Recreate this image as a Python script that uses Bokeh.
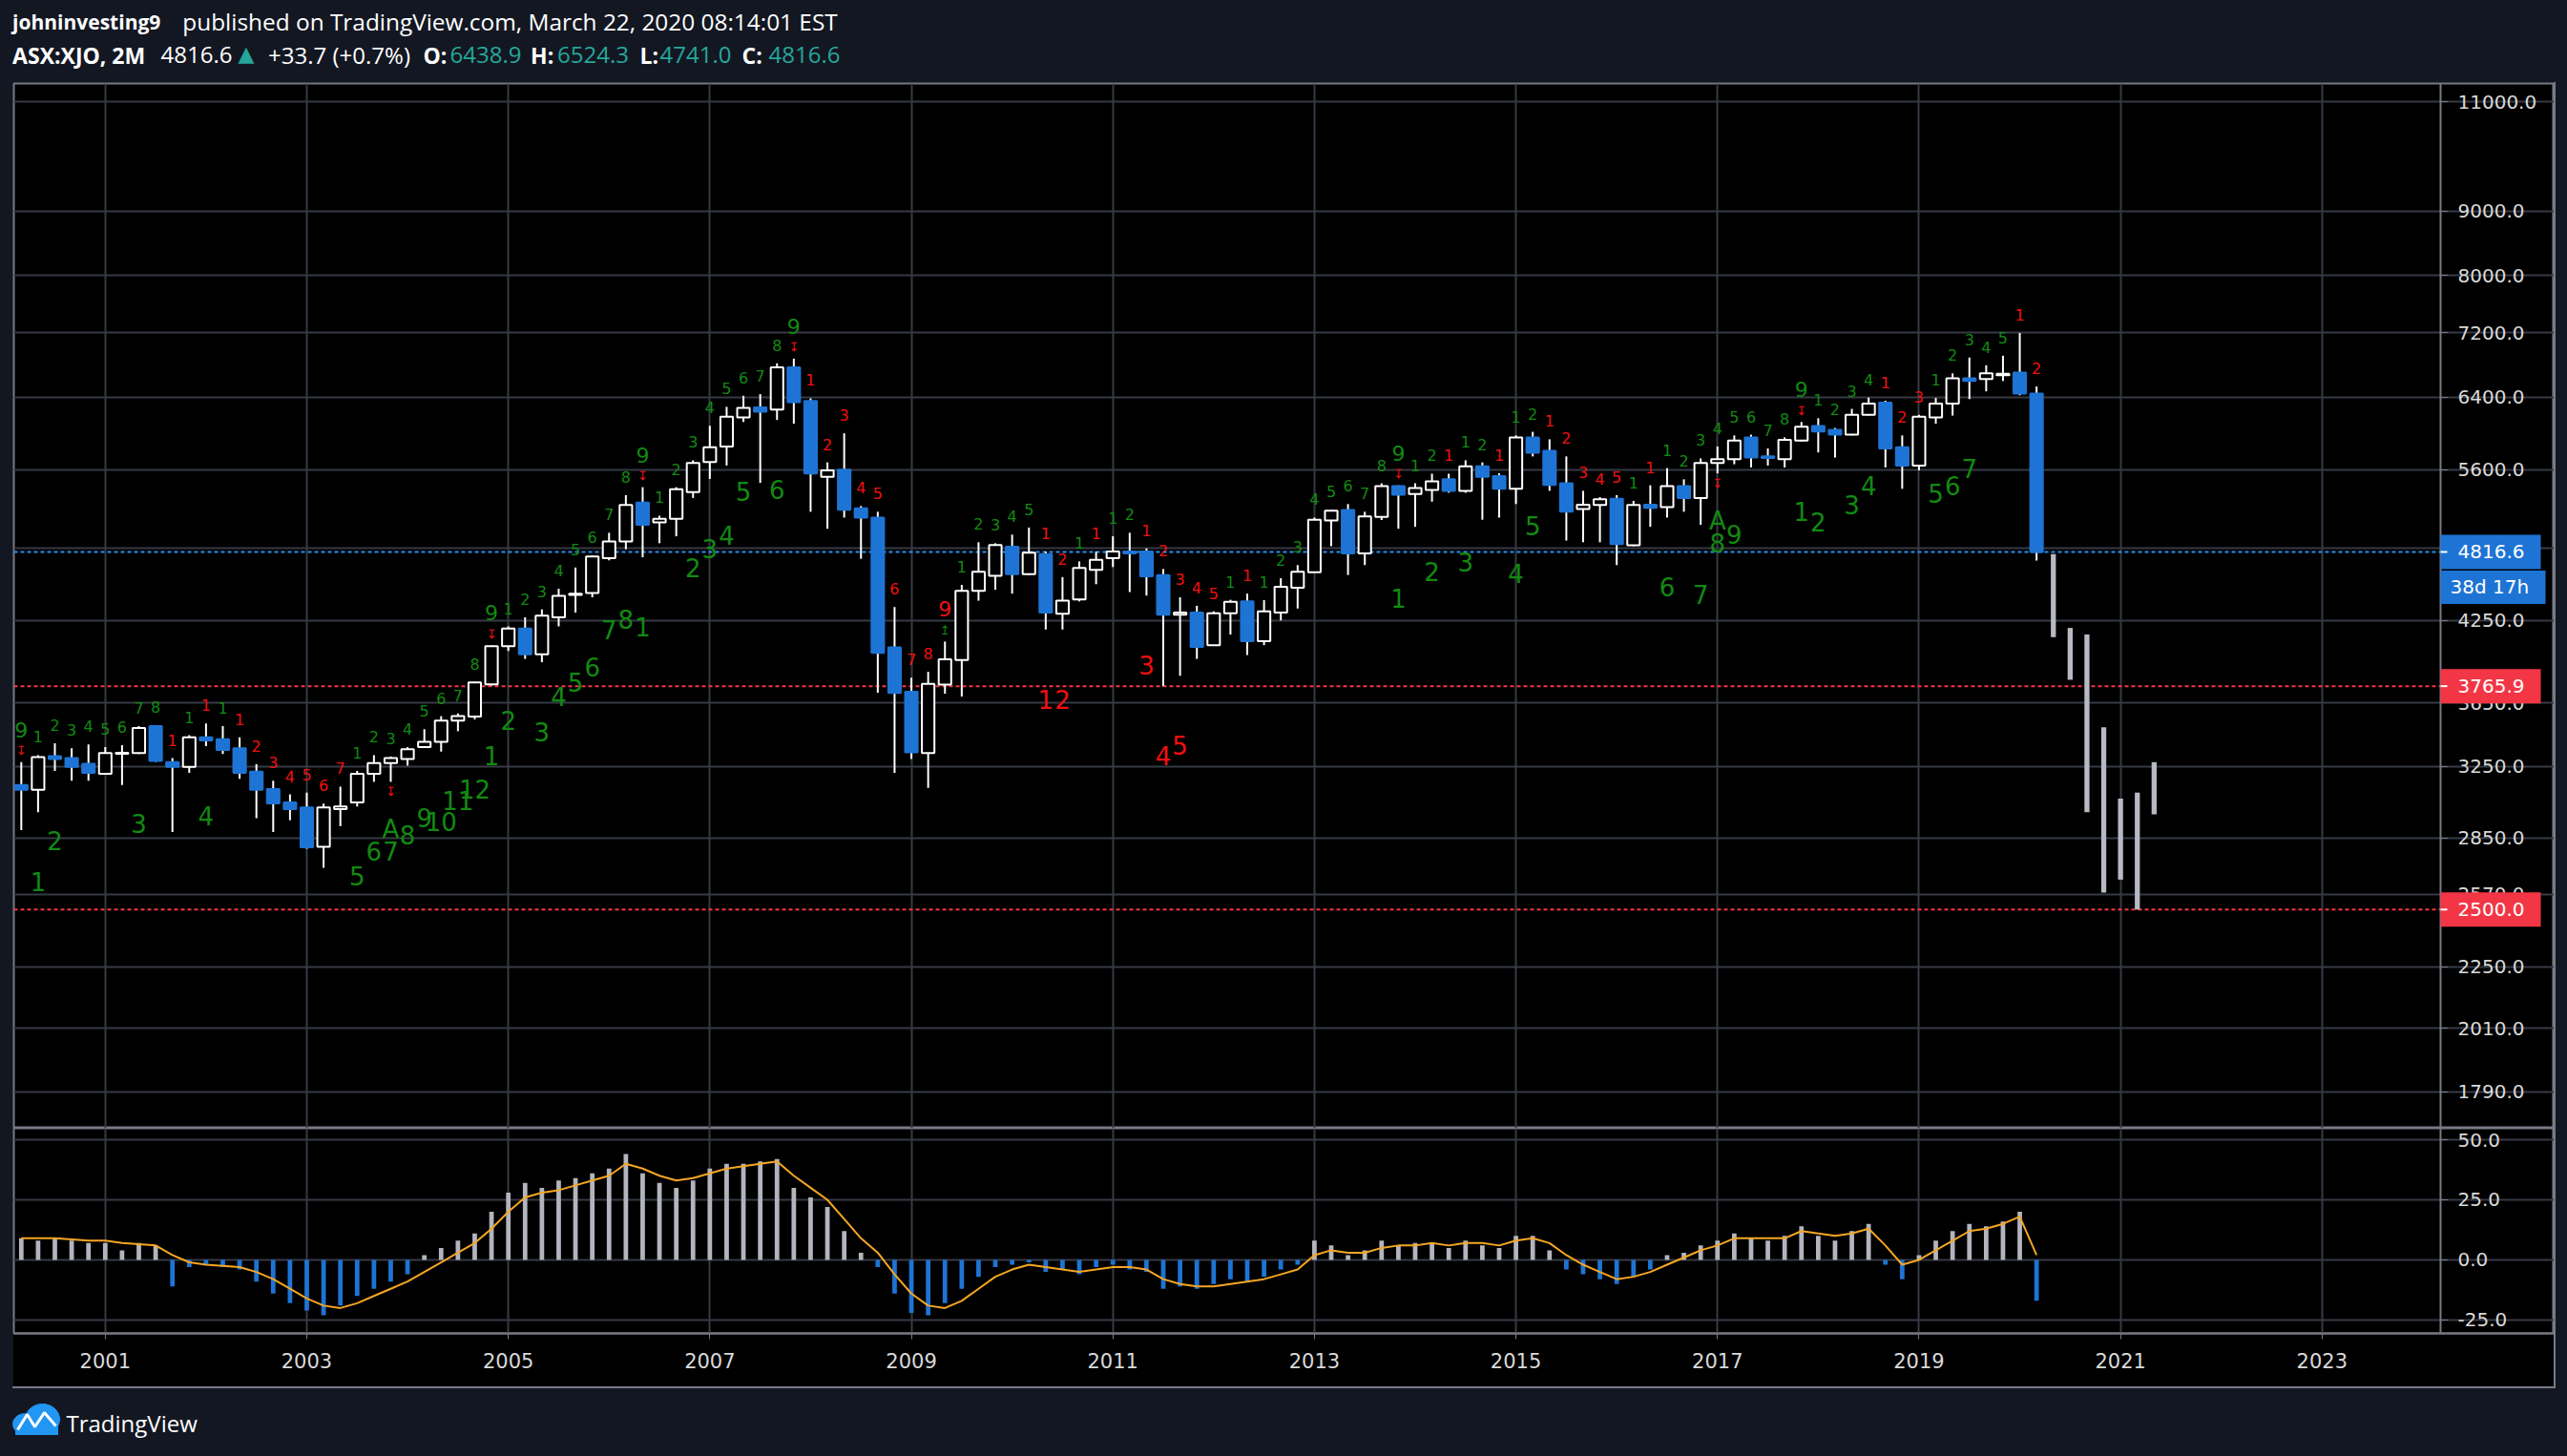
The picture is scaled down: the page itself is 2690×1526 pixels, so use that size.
import math
import pandas as pd
from bokeh.plotting import figure
from bokeh.layouts import column, row
from bokeh.models import (Range1d, FixedTicker, NumeralTickFormatter, Grid,
                          ColumnDataSource, Spacer)
from bokeh.embed import file_html
from bokeh.resources import INLINE
from bokeh.core.properties import value

# ---------------------------------------------------------------- data
first_bar = "2000-03-01"          # 2-month bars

opens = [3141, 3114, 3312, 3300, 3266, 3206, 3326, 3331, 3500, 3276,
         3248, 3429, 3416, 3360, 3219, 3118, 3043, 3015, 2805, 3006,
         3043, 3206, 3270, 3295, 3367, 3400, 3536, 3562, 3778, 4052,
         4186, 3993, 4273, 4452, 4468, 4763, 4910, 5272, 5084, 5118,
         5376, 5680, 5844, 6165, 6278, 6255, 6758, 6352, 5527, 5600,
         5218, 5130, 4043, 3728, 3331, 3776, 3950, 4485, 4610, 4864,
         4624, 4797, 4300, 4415, 4661, 4763, 4820, 4820, 4617, 4294,
         4310, 4060, 4304, 4399, 4090, 4310, 4511, 4641, 5103, 5203,
         4804, 5137, 5435, 5357, 5396, 5503, 5388, 5636, 5535, 5408,
         5943, 5798, 5463, 5210, 5249, 5310, 4875, 5253, 5229, 5435,
         5318, 5669, 5710, 5943, 5739, 5710, 5908, 6068, 6025, 5972,
         6194, 6333, 5836, 5644, 6165, 6323, 6622, 6613, 6660, 6693,
         6438.9]
highs = [3276, 3318, 3392, 3360, 3384, 3367, 3380, 3500, 3505, 3300,
         3442, 3517, 3500, 3429, 3264, 3166, 3088, 3098, 3036, 3132,
         3224, 3318, 3310, 3367, 3480, 3564, 3582, 3796, 4058, 4202,
         4273, 4335, 4502, 4681, 4786, 4989, 5346, 5424, 5148, 5424,
         5698, 6070, 6285, 6414, 6433, 6807, 6866, 6384, 5676, 5987,
         5240, 5185, 4354, 3824, 3866, 4087, 4534, 4903, 4894, 4972,
         5037, 4820, 4600, 4734, 4820, 4957, 4989, 4848, 4668, 4432,
         4364, 4320, 4412, 4462, 4409, 4590, 4702, 5130, 5203, 5259,
         5185, 5463, 5443, 5463, 5560, 5560, 5698, 5676, 5564, 5964,
         6004, 5922, 5739, 5388, 5326, 5346, 5290, 5443, 5617, 5503,
         5718, 5844, 5964, 5972, 5823, 5943, 6113, 6155, 6047, 6262,
         6393, 6356, 5964, 6194, 6388, 6683, 6880, 6783, 6903, 7197,
         6524.3]
lows = [2892, 2988, 3224, 3166, 3166, 3201, 3141, 3325, 3278, 2882,
        3212, 3373, 3325, 3177, 2956, 2882, 2945, 2795, 2699, 2913,
        3020, 3160, 3160, 3255, 3362, 3340, 3467, 3543, 3770, 4017,
        3959, 3935, 4202, 4310, 4432, 4743, 4840, 4770, 4894, 4957,
        5318, 5507, 5644, 6113, 5467, 6136, 6094, 5185, 5026, 5130,
        4757, 3720, 3212, 3295, 3125, 3714, 3695, 4405, 4494, 4462,
        4617, 4178, 4178, 4399, 4540, 4685, 4475, 4446, 3765.9, 3838,
        3959, 4055, 4139, 3987, 4060, 4248, 4342, 4641, 4868, 4617,
        4702, 5107, 5026, 5044, 5282, 5369, 5369, 5110, 5130, 5259,
        5739, 5388, 4918, 4903, 4903, 4702, 4868, 5044, 5130, 5185,
        5062, 5563, 5657, 5624, 5644, 5624, 5900, 5781, 5727, 5964,
        6185, 5624, 5408, 5594, 6094, 6185, 6375, 6466, 6590, 6420,
        4741.0]
closes = [3114, 3307, 3295, 3248, 3212, 3331, 3333, 3487, 3283, 3248,
          3429, 3409, 3350, 3212, 3114, 3038, 3006, 2803, 3015, 3020,
          3206, 3270, 3300, 3355, 3400, 3536, 3564, 3791, 4052, 4186,
          3993, 4285, 4444, 4461, 4777, 4910, 5249, 5062, 5118, 5404,
          5669, 5836, 6172, 6274, 6230, 6758, 6339, 5563, 5594, 5204,
          5130, 4002, 3720, 3336, 3782, 3956, 4485, 4644, 4878, 4624,
          4811, 4310, 4405, 4678, 4747, 4820, 4804, 4607, 4294, 4310,
          4046, 4304, 4396, 4090, 4320, 4518, 4644, 5110, 5196, 4804,
          5140, 5435, 5350, 5416, 5483, 5388, 5636, 5527, 5408, 5943,
          5777, 5447, 5185, 5253, 5306, 4887, 5249, 5222, 5435, 5318,
          5669, 5710, 5908, 5727, 5723, 5917, 6059, 6008, 5972, 6194,
          6323, 5823, 5644, 6172, 6323, 6622, 6590, 6683, 6678, 6441,
          4816.6]

# projected ("ghost") bars after the last candle
proj_high = [4798, 4190, 4140, 3492, 3064, 3098, 3276]
proj_low = [4120, 3810, 2988, 2579, 2641, 2500, 2977]

# oscillator histogram and its signal line (one value per candle)
hist = [9, 8, 9, 8, 7, 7, 4, 7, 6, -11,
        -3, -2, -3, -4, -9, -14, -18, -21, -23, -19,
        -15, -12, -9, -6, 2, 5, 8, 11, 20, 28,
        32, 30, 33, 34, 36, 38, 44, 36, 32, 30,
        33, 38, 40, 40, 41, 42, 30, 26, 22, 12,
        3, -3, -14, -22, -23, -18, -12, -7, -3, -2,
        -1, -5, -4, -6, -3, -2, -4, -5, -12, -11,
        -12, -10, -8, -9, -7, -4, -2, 8, 6, 2,
        4, 8, 6, 7, 7, 5, 8, 6, 5, 10,
        10, 4, -4, -6, -8, -10, -7, -4, 2, 3,
        6, 8, 11, 9, 8, 10, 14, 10, 8, 12,
        15, -2, -8, 2, 8, 12, 15, 14, 16, 20,
        -17]
signal = [9, 9, 9, 8.5, 8, 8, 7, 6.5, 6, 2,
          -1, -2, -2.5, -3, -5, -8, -12, -16, -19, -20,
          -18, -15, -12, -9, -5, -1, 3, 7, 13, 20,
          26, 28, 29, 31, 33, 35, 40, 38, 35, 33,
          34, 36, 38, 39, 40, 41, 35, 30, 25, 17,
          9, 3, -6, -14, -19, -20, -17, -12, -7, -4,
          -2, -3, -4, -5, -4, -3, -3, -4, -8, -10,
          -11, -11, -10, -9, -8, -6, -4, 2, 4, 3,
          3, 5, 6, 6, 7, 6, 7, 7, 6, 8,
          9, 7, 2, -2, -5, -8, -7, -5, -2, 1,
          4, 6, 9, 9, 9, 9, 12, 11, 10, 11,
          13, 6, -2, 0, 4, 8, 12, 13, 15, 18,
          2]

# TD-sequential style marks: setup count above each bar (g/r = green/red, capital = completed 9)
setup_marks = ["G9", "g1", "g2", "g3", "g4", "g5", "g6", "g7", "g8", "r1",
               "g1", "r1", "g1", "r1", "r2", "r3", "r4", "r5", "r6", "r7",
               "g1", "g2", "g3", "g4", "g5", "g6", "g7", "g8", "G9", "g1",
               "g2", "g3", "g4", "g5", "g6", "g7", "g8", "G9", "g1", "g2",
               "g3", "g4", "g5", "g6", "g7", "g8", "G9", "r1", "r2", "r3",
               "r4", "r5", "r6", "r7", "r8", "R9", "g1", "g2", "g3", "g4",
               "g5", "r1", "r2", "g1", "r1", "g1", "g2", "r1", "r2", "r3",
               "r4", "r5", "g1", "r1", "g1", "g2", "g3", "g4", "g5", "g6",
               "g7", "g8", "G9", "g1", "g2", "r1", "g1", "g2", "r1", "g1",
               "g2", "r1", "r2", "r3", "r4", "r5", "g1", "r1", "g1", "g2",
               "g3", "g4", "g5", "g6", "g7", "g8", "G9", "g1", "g2", "g3",
               "g4", "r1", "r2", "r3", "g1", "g2", "g3", "g4", "g5", "r1",
               "r2"]
# countdown numbers below bars
cd_bars = [1, 2, 7, 11, 20, 21, 22, 23, 24, 25, 26, 27, 28, 29, 31, 32, 33, 34, 35, 36,
           37, 40, 41, 42, 43, 45, 61, 62, 67, 68, 69, 82, 84, 86, 89, 90, 98, 100,
           101, 102, 106, 107, 109, 110, 114, 115, 116]
cd_text = ["1", "2", "3", "4", "5", "6", "7", "8", "9", "10", "11", "12",
           "1", "2", "3", "4", "5", "6", "7", "8",
           "1", "2", "3", "4", "5", "6",
           "1", "2", "3", "4", "5",
           "1", "2", "3", "4", "5", "6", "7", "8", "9",
           "1", "2", "3", "4", "5", "6", "7"]
cd_side = ["g"] * 26 + ["r"] * 5 + ["g"] * 16
agg_bars = [22, 101]          # "A" marks
below_arrow_bars = [22, 101]  # small red arrows under bars

price_ticks = [1790, 2010, 2250, 2570, 2850, 3250, 3650, 4250, 4850, 5600, 6400, 7200, 8000, 9000, 11000]
osc_ticks = [-25, 0, 25, 50]
year_ticks = [2001, 2003, 2005, 2007, 2009, 2011, 2013, 2015, 2017, 2019, 2021, 2023]
last_price = 4816.6
levels = [3765.9, 2500.0]
countdown = "38d 17h"

header_user = "johninvesting9"
header_pub = "published on TradingView.com, March 22, 2020 08:14:01 EST"
header_sym = "ASX:XJO, 2M"
header_last = "4816.6"
header_chg = "+33.7 (+0.7%)"
header_ohlc = [("O:", "6438.9"), ("H:", "6524.3"), ("L:", "4741.0"), ("C:", "4816.6")]

# ---------------------------------------------------------------- styles
NAVY = "#131722"
GRID = "#363a45"
FRAME = "#787b86"
BLUE = "#1e74d4"
RED = "#f23645"
GREEN_T = "#128a12"
RED_T = "#f01010"
TEAL = "#26a69a"
AXTXT = "#d9d9d9"

n = len(opens)
dates = pd.date_range(first_bar, periods=n + len(proj_high), freq="2MS")
tt = [d.year + (d.month - 1) / 12 for d in dates]
t = tt[:n]
tp = tt[n:]

FIG_W = 2663
xr = Range1d(2000.0927, 2025.303)
axis_x = 2024.176                      # where the price scale begins
ppy = (FIG_W - 1) / (xr.end - xr.start)  # pixels per year
ymin, ymax = 1674, 11372
ppl = 1095 / math.log(ymax / ymin)      # pixels per ln-unit in main pane

# ---------------------------------------------------------------- main pane
p = figure(width=FIG_W, height=1096, x_range=xr, y_range=Range1d(ymin, ymax),
           y_axis_type="log", y_axis_location="right", x_axis_location=None,
           toolbar_location=None, output_backend="svg",
           min_border_left=1, min_border_right=0, min_border_top=1, min_border_bottom=0)
p.background_fill_color = "black"
p.border_fill_color = "black"
p.outline_line_color = FRAME
p.outline_line_width = 2
p.ygrid.grid_line_color = GRID
p.ygrid.grid_line_width = 2
p.ygrid.bounds = (xr.start, axis_x)
if len(p.xgrid) > 0:
    p.xgrid.ticker = FixedTicker(ticks=year_ticks)
    p.xgrid.grid_line_color = GRID
    p.xgrid.grid_line_width = 2
else:
    p.add_layout(Grid(dimension=0, ticker=FixedTicker(ticks=year_ticks),
                      grid_line_color=GRID, grid_line_width=2))
ax = p.yaxis[0]
ax.fixed_location = axis_x
ax.ticker = FixedTicker(ticks=price_ticks)
ax.formatter = NumeralTickFormatter(format="0.0")
ax.major_label_overrides = {4850: ""}
ax.axis_line_color = FRAME
ax.axis_line_width = 2
ax.major_tick_line_color = FRAME
ax.major_tick_out = 8
ax.major_tick_in = 0
ax.minor_tick_line_color = None
ax.major_label_text_color = AXTXT
ax.major_label_text_font = "DejaVu Sans"
ax.major_label_text_font_size = "20px"
ax.major_label_standoff = 10

# horizontal level lines (stop at the price scale)
p.segment(x0=[xr.start], x1=[axis_x], y0=[last_price], y1=[last_price],
          line_color="#2a8ef0", line_dash="4 3", line_width=2)
p.segment(x0=[xr.start] * len(levels), x1=[axis_x] * len(levels), y0=levels, y1=levels,
          line_color=RED, line_dash="4 3", line_width=2)

# candles
up = [c >= o for o, c in zip(opens, closes)]
p.segment(x0=t, y0=lows, x1=t, y1=highs, line_color="white", line_width=2)
src_up = ColumnDataSource(dict(x=[t[i] for i in range(n) if up[i]],
                               top=[closes[i] for i in range(n) if up[i]],
                               bottom=[opens[i] for i in range(n) if up[i]]))
src_dn = ColumnDataSource(dict(x=[t[i] for i in range(n) if not up[i]],
                               top=[opens[i] for i in range(n) if not up[i]],
                               bottom=[closes[i] for i in range(n) if not up[i]]))
p.vbar(x="x", top="top", bottom="bottom", width=0.124, source=src_up,
       fill_color="black", line_color="white", line_width=2)
p.vbar(x="x", top="top", bottom="bottom", width=0.124, source=src_dn,
       fill_color=BLUE, line_color=BLUE, line_width=2)

# projection bars
p.vbar(x=tp, top=proj_high, bottom=proj_low, width=0.05, fill_color="#b7bac3", line_color=None)

# TD marks
def col(c):
    return GREEN_T if c.lower() == "g" else RED_T

sm = [(i, m) for i, m in enumerate(setup_marks) if m and m[0].islower()]
bg = [(i, m) for i, m in enumerate(setup_marks) if m and m[0].isupper()]
src_s = ColumnDataSource(dict(x=[t[i] for i, m in sm], y=[highs[i] for i, m in sm],
                              text=[m[1:] for i, m in sm], color=[col(m[0]) for i, m in sm]))
p.text(x="x", y="y", text="text", text_color="color", source=src_s,
       text_font=value("DejaVu Sans"), text_font_size="16px",
       text_align="center", text_baseline="middle", y_offset=-19)
src_b = ColumnDataSource(dict(x=[t[i] for i, m in bg], y=[highs[i] for i, m in bg],
                              text=[m[1:] for i, m in bg], color=[col(m[0]) for i, m in bg],
                              arrow=["\u21a7" if m[0] == "G" else "\u21a5" for i, m in bg],
                              acolor=[RED_T if m[0] == "G" else GREEN_T for i, m in bg]))
p.text(x="x", y="y", text="text", text_color="color", source=src_b,
       text_font=value("DejaVu Sans"), text_font_size="22px",
       text_align="center", text_baseline="middle", y_offset=-34)
p.text(x="x", y="y", text="arrow", text_color="acolor", source=src_b,
       text_font=value("DejaVu Sans"), text_font_size="13px",
       text_align="center", text_baseline="middle", y_offset=-12)
src_c = ColumnDataSource(dict(x=[t[i] for i in cd_bars], y=[lows[i] for i in cd_bars],
                              text=cd_text, color=[col(s) for s in cd_side]))
p.text(x="x", y="y", text="text", text_color="color", source=src_c,
       text_font=value("DejaVu Sans"), text_font_size="26px",
       text_align="center", text_baseline="middle", y_offset=73)
src_a = ColumnDataSource(dict(x=[t[i] for i in agg_bars], y=[lows[i] for i in agg_bars]))
p.text(x="x", y="y", text=value("A"), text_color=GREEN_T, source=src_a,
       text_font=value("DejaVu Sans"), text_font_size="26px",
       text_align="center", text_baseline="middle", y_offset=50)
src_ba = ColumnDataSource(dict(x=[t[i] for i in below_arrow_bars], y=[lows[i] for i in below_arrow_bars]))
p.text(x="x", y="y", text=value("\u21a7"), text_color=RED_T, source=src_ba,
       text_font=value("DejaVu Sans"), text_font_size="13px",
       text_align="center", text_baseline="middle", y_offset=10)

# price tags on the scale (drawn above the axis)
def tag(y, txt, bgc, w_px, text_dx):
    p.rect(x=[axis_x + w_px / 2 / ppy], y=[y], width=[w_px / ppy], height=[36],
           height_units="screen", fill_color=bgc, line_color=None, level="overlay")
    p.segment(x0=[axis_x], x1=[axis_x + 7 / ppy], y0=[y], y1=[y],
              line_color="white", line_width=2, level="overlay")
    p.text(x=[axis_x + text_dx / ppy], y=[y], text=[txt], text_color="white",
           text_font=value("DejaVu Sans"), text_font_size="20px",
           text_align="left", text_baseline="middle", level="overlay")

tag(last_price, f"{last_price:.1f}", BLUE, 105, 18)
y_cd = last_price * math.exp(-37 / ppl)
p.rect(x=[axis_x + 55 / ppy], y=[y_cd], width=[110 / ppy], height=[35],
       height_units="screen", fill_color=BLUE, line_color=None, level="overlay")
p.text(x=[axis_x + 10 / ppy], y=[y_cd], text=[countdown], text_color="white",
       text_font=value("DejaVu Sans"), text_font_size="20px",
       text_align="left", text_baseline="middle", level="overlay")
for lv in levels:
    tag(lv, f"{lv:.1f}", RED, 105, 18)

# ---------------------------------------------------------------- oscillator pane
q = figure(width=FIG_W, height=271, x_range=xr, y_range=Range1d(-30.56, 54.76),
           y_axis_location="right", x_axis_location="below",
           toolbar_location=None, output_backend="svg",
           min_border_left=1, min_border_right=0, min_border_top=0, min_border_bottom=56)
q.background_fill_color = "black"
q.border_fill_color = "black"
q.outline_line_color = FRAME
q.outline_line_width = 2
q.grid.grid_line_color = GRID
q.grid.grid_line_width = 2
q.ygrid.bounds = (xr.start, axis_x)
qx = q.xaxis[0]
qx.ticker = FixedTicker(ticks=year_ticks)
qx.formatter = NumeralTickFormatter(format="0")
qy = q.yaxis[0]
qy.fixed_location = axis_x
qy.ticker = FixedTicker(ticks=osc_ticks)
qy.formatter = NumeralTickFormatter(format="0.0")
for a in (qx, qy):
    a.axis_line_color = FRAME
    a.axis_line_width = 2
    a.major_tick_line_color = FRAME
    a.major_tick_in = 0
    a.minor_tick_line_color = None
    a.major_label_text_color = AXTXT
    a.major_label_text_font = "DejaVu Sans"
qy.major_tick_out = 8
qy.major_label_standoff = 10
qy.major_label_text_font_size = "20px"
qx.major_tick_out = 6
qx.major_label_standoff = 14
qx.major_label_text_font_size = "21px"

hcol = ["#b2b5be" if v >= 0 else BLUE for v in hist]
q.vbar(x=t, top=hist, bottom=0, width=0.045, fill_color=hcol, line_color=None)
q.line(x=t, y=signal, line_color="#f5a623", line_width=2)

# ---------------------------------------------------------------- header
hd = figure(width=2690, height=86, x_range=Range1d(0, 2690), y_range=Range1d(86, 0),
            toolbar_location=None, output_backend="svg", min_border=0,
            x_axis_location=None, y_axis_location=None)
hd.background_fill_color = NAVY
hd.border_fill_color = NAVY
hd.outline_line_color = None
hd.grid.visible = False
segs = [(12.6, 22, header_user, "bold", "white", "21px", "Open Sans"),
        (190.8, 22, header_pub, "normal", "white", "24.4px", "Open Sans"),
        (12.6, 57, header_sym, "bold", "white", "23px", "Open Sans"),
        (168, 57, header_last, "normal", "white", "24px", "Open Sans"),
        (249, 56, "\u25b2", "normal", TEAL, "22px", "DejaVu Sans"),
        (280.6, 57, header_chg, "normal", "white", "24px", "Open Sans")]
ox = [443, 555.6, 670, 777]
for (lab, val), x0 in zip(header_ohlc, ox):
    segs.append((x0, 57, lab, "bold", "white", "23px", "Open Sans"))
    segs.append((x0 + (28 if lab != "L:" else 21), 57, val, "normal", TEAL, "24px", "Open Sans"))
for x0, y0, txt, sty, c, fs, fnt in segs:
    hd.text(x=[x0], y=[y0], text=[txt], text_color=c, text_font=value(fnt),
            text_font_style=sty, text_font_size=fs, text_align="left", text_baseline="middle")

# ---------------------------------------------------------------- footer
ft = figure(width=2690, height=71, x_range=Range1d(0, 2690), y_range=Range1d(1526, 1455),
            toolbar_location=None, output_backend="svg", min_border=0,
            x_axis_location=None, y_axis_location=None)
ft.background_fill_color = NAVY
ft.border_fill_color = NAVY
ft.outline_line_color = None
ft.grid.visible = False
ft.ellipse(x=[26, 44], y=[1492, 1487], width=[26, 36], height=[22, 32], color="#2196f3")
ft.rect(x=[38], y=[1498], width=[44], height=[10], color="#2196f3")
ft.line(x=[18, 28, 36, 46, 58], y=[1498, 1482, 1495, 1480, 1494], line_color="white", line_width=3)
ft.text(x=[69], y=[1491], text=["TradingView"], text_color="white", text_font=value("Open Sans"),
        text_font_size="24px", text_align="left", text_baseline="middle")

# ---------------------------------------------------------------- layout
bottom_line = Spacer(width=FIG_W, height=2, styles={"background-color": FRAME})
right_line = Spacer(width=2, height=1369, styles={"background-color": FRAME})
chart = row(Spacer(width=13, height=1369), column(p, q, bottom_line), right_line)
layout = column(hd, chart, ft)

html = file_html(layout, INLINE, title="ASX:XJO 2M")
html = html.replace("</head>", "<style>html,body{background:#131722;}</style></head>", 1)
open("out.html", "w").write(html)
